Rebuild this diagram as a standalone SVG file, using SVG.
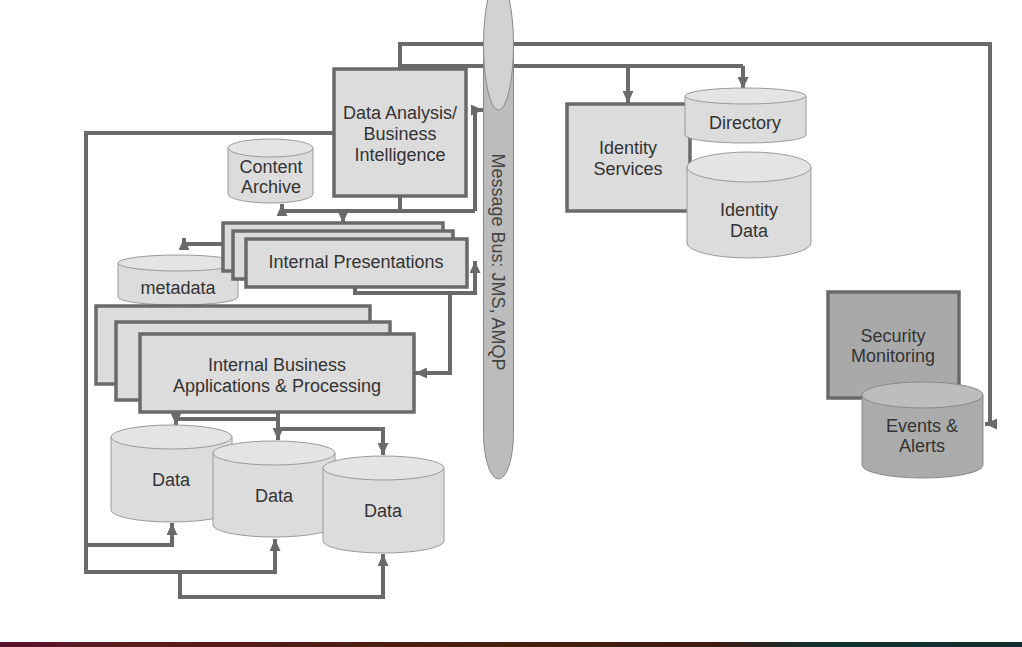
<svg xmlns="http://www.w3.org/2000/svg" width="1022" height="647" viewBox="0 0 1022 647">
<style>
.box{fill:#dcdcdc;stroke:#6a6a6a;stroke-width:3.5}
.dbox{fill:#a9a9a9;stroke:#6a6a6a;stroke-width:3.5}
.cyl{fill:#dcdcdc;stroke:#9a9a9a;stroke-width:1}
.cyltop{fill:#e4e4e4;stroke:#9a9a9a;stroke-width:1}
.dcyl{fill:#ababab;stroke:#8a8a8a;stroke-width:1}
.dcyltop{fill:#bdbdbd;stroke:#8a8a8a;stroke-width:1}
.con{fill:none;stroke:#6a6a6a;stroke-width:4;stroke-linejoin:miter}
.arr{marker-end:url(#ah)}
text{font-family:"Liberation Sans",Arial,sans-serif;font-size:18px;fill:#333;text-anchor:middle}
</style>
<defs>
<marker id="ah" markerUnits="userSpaceOnUse" markerWidth="12" markerHeight="11" refX="12" refY="5.5" orient="auto" viewBox="0 0 12 11">
<path d="M0,0 L12,5.5 L0,11 Z" fill="#6a6a6a"/>
</marker>
<linearGradient id="bar" x1="0" y1="0" x2="1" y2="0">
<stop offset="0" stop-color="#5a1430"/>
<stop offset="0.12" stop-color="#5a1a1c"/>
<stop offset="0.5" stop-color="#46200f"/>
<stop offset="0.7" stop-color="#3c1a12"/>
<stop offset="0.8" stop-color="#12302e"/>
<stop offset="1" stop-color="#0f3030"/>
</linearGradient>
</defs>
<rect x="0" y="0" width="1022" height="647" fill="#ffffff"/>

<g id="connectors">
<path class="con arr" d="M400,69 V44 H990 V424 H985"/>
<path class="con" d="M400,66 H743"/>
<path class="con arr" d="M628,66 V103"/>
<path class="con arr" d="M743,66 V89"/>
<path class="con" d="M400,196 V211"/>
<path class="con arr" d="M475,211 V110 H483"/>
<path class="con arr" d="M475,211 H282 V204"/>
<path class="con arr" d="M343,211 V223"/>
<path class="con arr" d="M334,133 H86 V572 H275 V539"/>
<path class="con arr" d="M86,545 H172 V523"/>
<path class="con arr" d="M180,572 V597 H383 V554"/>
<path class="con arr" d="M223,244 H184 V238"/>
<path class="con arr" d="M355,287 V293 H475 V261"/>
<path class="con arr" d="M450,293 V373 H415"/>
<path class="con arr" d="M278,412 V440"/>
<path class="con arr" d="M278,419 H176 V425"/>
<path class="con arr" d="M278,429 H383 V455"/>
</g>

<g id="message-bus">
<path d="M483.5,45 V433 A15,46 0 0 0 513.5,433 V45 Z" fill="#bcbcbc" stroke="#8a8a8a" stroke-width="1"/>
<ellipse cx="498.5" cy="45" rx="15" ry="65" fill="#d2d2d2" stroke="#8a8a8a" stroke-width="1"/>
<text transform="translate(498,262) rotate(90)" y="6" style="fill:#444">Message Bus: JMS, AMQP</text>
</g>

<g id="data-analysis">
<rect class="box" x="334" y="69" width="132" height="127"/>
<text x="400" y="119">Data Analysis/</text>
<text x="400" y="140">Business</text>
<text x="400" y="161">Intelligence</text>
</g>

<g id="content-archive">
<path class="cyl" d="M228,148 V194 A42.5,9 0 0 0 313,194 V148 Z"/>
<ellipse class="cyltop" cx="270.5" cy="148" rx="42.5" ry="9"/>
<text x="271" y="173">Content</text>
<text x="271" y="193">Archive</text>
</g>

<g id="metadata">
<path class="cyl" d="M118,263 V297 A60,8 0 0 0 238,297 V263 Z"/>
<ellipse class="cyltop" cx="178" cy="263" rx="60" ry="8"/>
<text x="178" y="294">metadata</text>
</g>

<g id="internal-presentations">
<rect class="box" x="223" y="223" width="220" height="48"/>
<rect class="box" x="233" y="231" width="220" height="48"/>
<rect class="box" x="246" y="239" width="221" height="48"/>
<text x="356" y="268">Internal Presentations</text>
</g>

<g id="internal-business">
<rect class="box" x="96" y="306" width="274" height="78"/>
<rect class="box" x="116" y="322" width="274" height="78"/>
<rect class="box" x="140" y="334" width="274" height="78"/>
<text x="277" y="371">Internal Business</text>
<text x="277" y="392">Applications &amp; Processing</text>
</g>

<g id="data1">
<path class="cyl" d="M111,437 V510 A60.5,12 0 0 0 232,510 V437 Z"/>
<ellipse class="cyltop" cx="171.5" cy="437" rx="60.5" ry="12"/>
<text x="171" y="486">Data</text>
</g>
<g id="data2">
<path class="cyl" d="M213,453 V525 A61,12 0 0 0 335,525 V453 Z"/>
<ellipse class="cyltop" cx="274" cy="453" rx="61" ry="12"/>
<text x="274" y="502">Data</text>
</g>
<g id="data3">
<path class="cyl" d="M323,468 V541 A60.5,12 0 0 0 444,541 V468 Z"/>
<ellipse class="cyltop" cx="383.5" cy="468" rx="60.5" ry="12"/>
<text x="383" y="517">Data</text>
</g>

<g id="identity-services">
<rect class="box" x="567" y="104" width="123" height="107"/>
<text x="628" y="154">Identity</text>
<text x="628" y="175">Services</text>
</g>

<g id="directory">
<path class="cyl" d="M685,96 V135 A60.5,8 0 0 0 806,135 V96 Z"/>
<ellipse class="cyltop" cx="745.5" cy="96" rx="60.5" ry="8"/>
<text x="745" y="129">Directory</text>
</g>

<g id="identity-data">
<path class="cyl" d="M687,167 V243 A62,15 0 0 0 811,243 V167 Z"/>
<ellipse class="cyltop" cx="749" cy="167" rx="62" ry="15"/>
<text x="749" y="216">Identity</text>
<text x="749" y="237">Data</text>
</g>

<g id="security-monitoring">
<rect class="dbox" x="828" y="292" width="131" height="106"/>
<text x="893" y="342">Security</text>
<text x="893" y="362">Monitoring</text>
</g>

<g id="events-alerts">
<path class="dcyl" d="M862,395 V465 A60.5,13 0 0 0 983,465 V395 Z"/>
<ellipse class="dcyltop" cx="922.5" cy="395" rx="60.5" ry="13"/>
<text x="922" y="432">Events &amp;</text>
<text x="922" y="452">Alerts</text>
</g>

<rect x="0" y="642" width="1022" height="5" fill="url(#bar)"/>
</svg>
